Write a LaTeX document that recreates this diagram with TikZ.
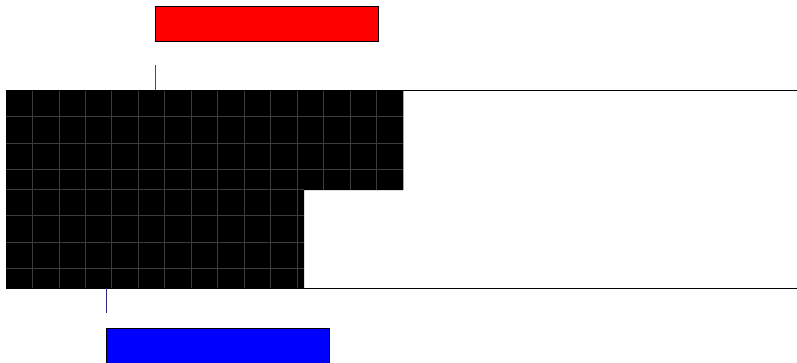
\documentclass[tikz,border=0pt]{standalone}
\usepackage{tikz}
\usetikzlibrary{positioning}
\usepackage{xcolor}

\definecolor{gridgray}{HTML}{3C3C3C}
\definecolor{redtick}{HTML}{C8104A}
\definecolor{bluetick}{HTML}{2A2A80}

\begin{document}
\begin{tikzpicture}[x=1pt, y=-1pt,
    bar/.style={rectangle, draw=black, line width=0.8pt, minimum width=223pt, minimum height=35pt, inner sep=0pt},
    gridline/.style={gridgray, line width=0.7pt},
    rail/.style={black, line width=1pt}]

    % Fix the page to the reference size
    \useasboundingbox (0,0) rectangle (797,362);

    % The two bars (top and bottom)
    \node[bar, fill=red]  (RedBar)  at (266.5, 23.5) {};
    \node[bar, fill=blue] (BlueBar) at (217.5, 345.5) {};

    % Corners of the black block
    \coordinate (TL) at (6, 90);
    \coordinate (TR) at (403, 90);
    \coordinate (NR) at (403, 190);
    \coordinate (NL) at (304, 190);
    \coordinate (BR) at (304, 288);
    \coordinate (BL) at (6, 288);

    % Black block with the notch
    \fill[black] (TL) -- (TR) -- (NR) -- (NL) -- (BR) -- (BL) -- cycle;

    % Grid inside the block
    \begin{scope}
        \clip (TL) -- (TR) -- (NR) -- (NL) -- (BR) -- (BL) -- cycle;
        % vertical lines
        \foreach \k in {1,...,14}
            \draw[gridline] (6+26.45*\k, 90) -- (6+26.45*\k, 288);
        % horizontal lines, upper part
        \foreach \k in {1,2,3}
            \draw[gridline] (6, 90+26.5*\k) -- (403, 90+26.5*\k);
        % horizontal lines, lower part
        \foreach \k in {0,1,2,3}
            \draw[gridline] (6, 189+26.6*\k) -- (304, 189+26.6*\k);
    \end{scope}
    \draw[gray!70, line width=0.8pt] (TR) -- (NR);

    % Rails along top and bottom
    \coordinate (TopEnd) at (797, 90);
    \coordinate (BotEnd) at (797, 288);
    \draw[rail] (TL) -- (TopEnd);
    \draw[rail] (BL) -- (BotEnd);

    % Ticks
    \coordinate (RedTickTop) at (155, 65);
    \coordinate (RedTickEnd) at (155, 90);
    \coordinate (BlueTickTop) at (106, 288);
    \coordinate (BlueTickEnd) at (106, 313);
    \draw[redtick, line width=1pt] (RedTickTop) -- (RedTickEnd);
    \draw[bluetick, line width=1pt] (BlueTickTop) -- (BlueTickEnd);
\end{tikzpicture}
\end{document}
